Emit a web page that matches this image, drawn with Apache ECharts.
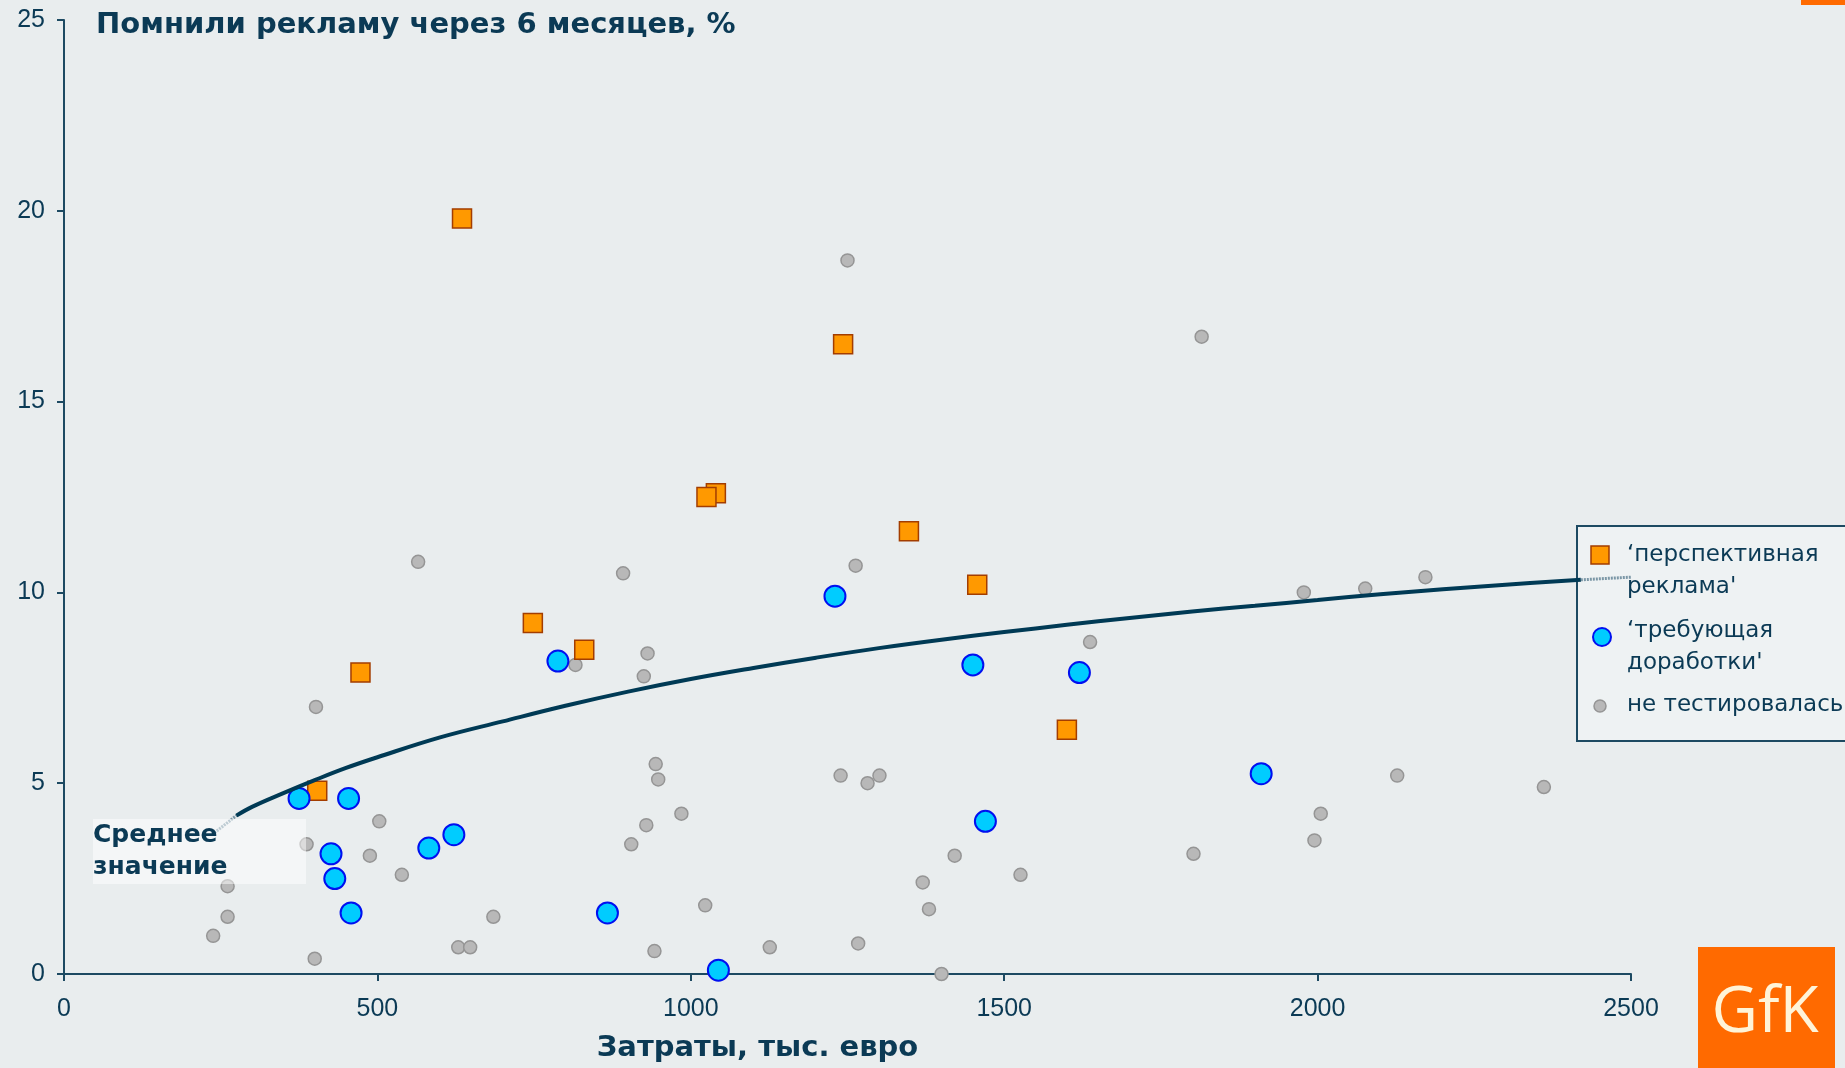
<!DOCTYPE html>
<html>
<head>
<meta charset="utf-8">
<script src="https://cdn.jsdelivr.net/npm/echarts@6/dist/echarts.min.js"></script>
<style>
html,body{margin:0;padding:0;background:#e9edee;}
#chart{width:1845px;height:1068px;}
</style>
</head>
<body>
<div id="chart"></div>
<script>
// ---- data ----
const titleText = 'Помнили рекламу через 6 месяцев, %';
const xAxisTitle = 'Затраты, тыс. евро';
const seriesNames = ['‘перспективная\nреклама\'', '‘требующая\nдоработки\'', 'не тестировалась'];
const avgLabel = 'Среднее\nзначение';
const xTicks = [0, 500, 1000, 1500, 2000, 2500];
const yTicks = [0, 5, 10, 15, 20, 25];

// 'перспективная реклама' (orange squares): [cost, recall %]
const promising = [
  [635, 19.8], [1243, 16.5], [1040, 12.6], [1025, 12.5], [1348, 11.6],
  [1457, 10.2], [748, 9.2], [830, 8.5], [473, 7.9], [1600, 6.4], [404, 4.8]
];
// 'требующая доработки' (blue circles)
const needsWork = [
  [1230, 9.9], [788, 8.2], [1450, 8.1], [1620, 7.9], [1910, 5.25],
  [375, 4.6], [454, 4.6], [1470, 4.0], [622, 3.65], [582, 3.3],
  [426, 3.15], [432, 2.5], [458, 1.6], [867, 1.6], [1044, 0.1]
];
// 'не тестировалась' (gray dots)
const notTested = [
  [1250, 18.7], [1815, 16.7], [565, 10.8], [892, 10.5], [1263, 10.7],
  [1978, 10.0], [2076, 10.1], [2172, 10.4], [1637, 8.7], [931, 8.4],
  [816, 8.1], [925, 7.8], [402, 7.0], [944, 5.5], [948, 5.1],
  [1239, 5.2], [1301, 5.2], [1282, 5.0], [2127, 5.2], [2361, 4.9],
  [985, 4.2], [2005, 4.2], [503, 4.0], [929, 3.9], [387, 3.4],
  [905, 3.4], [1995, 3.5], [488, 3.1], [1421, 3.1], [1802, 3.15],
  [539, 2.6], [1526, 2.6], [261, 2.3], [1370, 2.4], [1023, 1.8],
  [1380, 1.7], [261, 1.5], [685, 1.5], [238, 1.0], [629, 0.7],
  [648, 0.7], [1126, 0.7], [1267, 0.8], [942, 0.6], [400, 0.4],
  [1400, 0.0]
];
// average (trend) curve
const trendStart = [[240, 3.7], [275, 4.15]];
const trendMain = [
  [275, 4.15], [300, 4.38], [350, 4.74], [400, 5.08], [450, 5.4],
  [500, 5.68], [600, 6.2], [700, 6.62], [800, 7.03], [900, 7.4],
  [1000, 7.73], [1100, 8.02], [1200, 8.29], [1300, 8.54], [1400, 8.76],
  [1500, 8.96], [1600, 9.15], [1700, 9.33], [1800, 9.5], [1900, 9.65],
  [2000, 9.8], [2100, 9.95], [2200, 10.08], [2300, 10.2], [2420, 10.33]
];
const trendEnd = [[2420, 10.33], [2500, 10.4]];

// ---- chart ----
const dark = '#0b3a55';
const axisCol = '#1d4a62';
const fontBold = '"DejaVu Sans", sans-serif';
const fontReg = '"DejaVu Sans", sans-serif';
const chart = echarts.init(document.getElementById('chart'), null, {renderer: 'canvas'});

const option = {
  backgroundColor: '#e9edee',
  animation: false,
  title: {
    text: titleText, left: 96, top: 11, padding: 0,
    textStyle: {fontSize: 29, fontWeight: 'bold', color: dark, fontFamily: fontBold}
  },
  grid: {left: 64, right: 214, top: 20, bottom: 89},
  xAxis: {
    type: 'value', min: xTicks[0], max: xTicks[xTicks.length - 1], interval: 500,
    splitLine: {show: false},
    axisLine: {show: true, lineStyle: {color: axisCol, width: 2}},
    axisTick: {show: true, length: 7, lineStyle: {color: axisCol, width: 2}},
    axisLabel: {margin: 23, fontSize: 25, color: dark, fontFamily: '"Liberation Sans", Arial, sans-serif',
                formatter: v => String(v)},
    name: xAxisTitle, nameLocation: 'middle', nameGap: 60,
    nameTextStyle: {fontSize: 29, fontWeight: 'bold', color: dark, fontFamily: fontBold, padding: [0, 180, 0, 0]}
  },
  yAxis: {
    type: 'value', min: yTicks[0], max: yTicks[yTicks.length - 1], interval: 5,
    splitLine: {show: false},
    axisLine: {show: true, lineStyle: {color: axisCol, width: 2}},
    axisTick: {show: true, length: 7, lineStyle: {color: axisCol, width: 2}},
    axisLabel: {margin: 19, fontSize: 25, color: dark, fontFamily: '"Liberation Sans", Arial, sans-serif',
                formatter: v => String(v)}
  },
  series: [
    {
      name: 'trendStart', type: 'line', data: trendStart, symbol: 'none', silent: true, z: 8,
      lineStyle: {color: '#7b97a6', width: 3, type: [2, 1]}
    },
    {
      name: 'trend', type: 'line', data: trendMain, symbol: 'none', silent: true, z: 8, smooth: 0.4,
      lineStyle: {color: '#003a55', width: 4}
    },
    {
      name: 'trendEnd', type: 'line', data: trendEnd, symbol: 'none', silent: true, z: 8,
      lineStyle: {color: '#7b97a6', width: 3, type: [2, 1]}
    },
    {
      name: seriesNames[2], type: 'scatter', data: notTested, symbol: 'circle', symbolSize: 13, z: 3,
      itemStyle: {color: '#b8b8b8', borderColor: '#959595', borderWidth: 1.5, opacity: 1}
    },
    {
      name: seriesNames[0], type: 'scatter', data: promising, symbol: 'rect', symbolSize: 19, z: 5,
      itemStyle: {color: '#ff9900', borderColor: '#a33d00', borderWidth: 1.5, opacity: 1}
    },
    {
      name: seriesNames[1], type: 'scatter', data: needsWork, symbol: 'circle', symbolSize: 21, z: 6,
      itemStyle: {color: '#00ccff', borderColor: '#0010f0', borderWidth: 2, opacity: 1}
    }
  ],
  graphic: [
    // "Среднее значение" annotation box
    {type: 'rect', z: 100, shape: {x: 93, y: 819, width: 213, height: 65},
     style: {fill: 'rgba(255,255,255,0.5)'}},
    {type: 'text', z: 101, x: 93, y: 851,
     style: {text: avgLabel, font: 'bold 25px ' + fontBold, fill: dark, lineHeight: 32, verticalAlign: 'middle'}},
    // legend
    {type: 'rect', z: 1, shape: {x: 1577, y: 526, width: 300, height: 215},
     style: {fill: '#eef2f3', stroke: axisCol, lineWidth: 2}},
    {type: 'rect', z: 101, shape: {x: 1591, y: 546, width: 18, height: 18},
     style: {fill: '#ff9900', stroke: '#a33d00', lineWidth: 1.5}},
    {type: 'text', z: 101, x: 1627, y: 571,
     style: {text: seriesNames[0], font: '23px ' + fontReg, fill: dark, lineHeight: 32, verticalAlign: 'middle'}},
    {type: 'circle', z: 101, shape: {cx: 1602, cy: 637, r: 9},
     style: {fill: '#00ccff', stroke: '#0010f0', lineWidth: 2}},
    {type: 'text', z: 101, x: 1627, y: 647,
     style: {text: seriesNames[1], font: '23px ' + fontReg, fill: dark, lineHeight: 32, verticalAlign: 'middle'}},
    {type: 'circle', z: 101, shape: {cx: 1600, cy: 706, r: 6},
     style: {fill: '#b8b8b8', stroke: '#959595', lineWidth: 1.5}},
    {type: 'text', z: 101, x: 1627, y: 705,
     style: {text: seriesNames[2], font: '23px ' + fontReg, fill: dark, verticalAlign: 'middle'}},
    // GfK logo
    {type: 'rect', z: 100, shape: {x: 1698, y: 947, width: 137, height: 121}, style: {fill: '#ff6a00'}},
    {type: 'text', z: 101, x: 1765, y: 1014,
     style: {text: 'GfK', font: '64px "Open Sans", sans-serif', fill: '#fff4d8', align: 'center', verticalAlign: 'middle',
             shadowBlur: 4, shadowColor: 'rgba(255,255,220,0.8)'}},
    {type: 'rect', z: 100, shape: {x: 1801, y: 0, width: 44, height: 5}, style: {fill: '#ff6a00'}}
  ]
};
chart.setOption(option);
</script>
</body>
</html>
